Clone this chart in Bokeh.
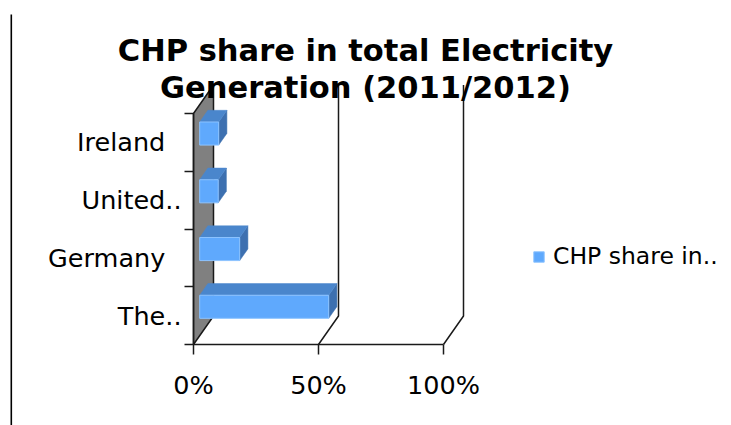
from bokeh.plotting import figure
from bokeh.models import (Range1d, FixedTicker, PrintfTickFormatter, Label, Legend,
                          LegendItem, BoxAnnotation, ColumnDataSource)
from bokeh.embed import file_html
from bokeh.resources import INLINE

# ---------------- data ----------------
categories = ["The..", "Germany", "United..", "Ireland"]       # bottom -> top
shares = [51.6, 16.0, 7.4, 7.6]                                 # % of total generation
x_ticks = [0, 50, 100]
title_lines = ["CHP share in total Electricity", "Generation (2011/2012)"]
series_name = "CHP share in.."

# ---------------- geometry ----------------
W, H = 731, 425
OX, OY = 193, 344                           # canvas px of the data origin (0%, bottom)
X_PX = 2.5                                  # px per percent
Y_PX = 57.75                                # px per category band
DX = 20 / X_PX                              # depth offset (x, data units)
DY = 28.5 / Y_PX                            # depth offset (y, data units)
F0, F1 = 0.31, 0.72                         # bar depth position
HALF = 0.2                                  # half bar thickness

n = len(categories)
centers = [i + 0.5 for i in range(n)]

p = figure(width=W, height=H, output_backend="svg", toolbar_location=None,
           x_range=Range1d(-OX / X_PX, (W - OX) / X_PX),
           y_range=Range1d(-(H - OY) / Y_PX, OY / Y_PX),
           min_border=0)
p.outline_line_color = None
p.grid.visible = False
p.background_fill_color = "white"
p.border_fill_color = "white"

LINE = "#1a1a1a"

# side wall (gray)
p.patch([0, 0, DX, DX], [0, n, n + DY, DY], fill_color="#808080",
        line_color=LINE, line_width=1.5)

# floor diagonals + back wall verticals for gridlines
gx, gy = [], []
for t in x_ticks[1:]:
    gx.append([t, t + DX, t + DX])
    gy.append([0, DY, n + DY])
p.multi_line(gx, gy, line_color=LINE, line_width=1.5)

# bars
front = dict(left=[], right=[], bottom=[], top=[])
tops_x, tops_y, side_x, side_y = [], [], [], []
for c, v in zip(centers, shares):
    x0 = F0 * DX
    x1 = F1 * DX
    b0, t0 = c - HALF + F0 * DY, c + HALF + F0 * DY
    b1, t1 = c - HALF + F1 * DY, c + HALF + F1 * DY
    front["left"].append(x0)
    front["right"].append(v + x0)
    front["bottom"].append(b0)
    front["top"].append(t0)
    tops_x.append([x0, v + x0, v + x1, x1])
    tops_y.append([t0, t0, t1, t1])
    side_x.append([v + x0, v + x0, v + x1, v + x1])
    side_y.append([b0, t0, t1, b1])

p.patches(side_x, side_y, fill_color="#3d70b0", line_color="#3d70b0", line_width=0.5)
p.patches(tops_x, tops_y, fill_color="#4a86cc", line_color="#4a86cc", line_width=0.5)
bars = p.quad(source=ColumnDataSource(front), left="left", right="right",
              bottom="bottom", top="top", fill_color="#5fa9fd",
              line_color="#8cc3ff", line_width=1)

# axes (drawn at the data origin inside the full-canvas frame)
xa = p.xaxis[0]
xa.fixed_location = 0
xa.ticker = FixedTicker(ticks=x_ticks)
xa.formatter = PrintfTickFormatter(format="%d%%")
xa.bounds = (0, 100)
xa.axis_line_color = LINE
xa.axis_line_width = 1.5
xa.major_tick_line_color = LINE
xa.major_tick_line_width = 1.5
xa.major_tick_out = 10
xa.major_tick_in = 0
xa.minor_tick_line_color = None
xa.major_label_text_font = "DejaVu Sans"
xa.major_label_text_font_size = "25.5px"
xa.major_label_text_color = "black"
xa.major_label_standoff = 15

ya = p.yaxis[0]
ya.fixed_location = 0
ya.ticker = FixedTicker(ticks=centers, minor_ticks=list(range(n + 1)))
ya.major_label_overrides = {c: (lab if lab.endswith("..") else lab + "\u00a0\u00a0")
                            for c, lab in zip(centers, categories)}
ya.bounds = (0, n)
ya.axis_line_color = LINE
ya.axis_line_width = 1.5
ya.major_tick_out = 0
ya.major_tick_in = 0
ya.major_tick_line_color = None
ya.minor_tick_line_color = LINE
ya.minor_tick_line_width = 1.5
ya.minor_tick_out = 9
ya.minor_tick_in = 0
ya.major_label_text_font = "DejaVu Sans"
ya.major_label_text_font_size = "25.5px"
ya.major_label_text_color = "black"
ya.major_label_standoff = 3

# title (two lines)
for i, line in enumerate(title_lines):
    p.add_layout(Label(x=365, y=H - (50 + 36.5 * i), x_units="screen", y_units="screen",
                       text=line, text_align="center", text_baseline="alphabetic",
                       text_font="DejaVu Sans", text_font_style="bold",
                       text_font_size="30.5px", text_color="black"))

# left border line
p.add_layout(BoxAnnotation(left=10, right=11.6, bottom=0, top=H - 14,
                           left_units="screen", right_units="screen",
                           bottom_units="screen", top_units="screen",
                           fill_color="black", fill_alpha=1, line_color=None))

# legend
legend = Legend(items=[LegendItem(label=series_name, renderers=[bars])],
                location=(532, H - 270), orientation="vertical",
                glyph_width=13, glyph_height=13, label_standoff=8,
                label_text_font="DejaVu Sans", label_text_font_size="23.5px",
                label_text_color="black", padding=0, margin=0,
                border_line_color=None, background_fill_alpha=0)
p.add_layout(legend, "center")

open("out.html", "w").write(file_html(p, INLINE))
